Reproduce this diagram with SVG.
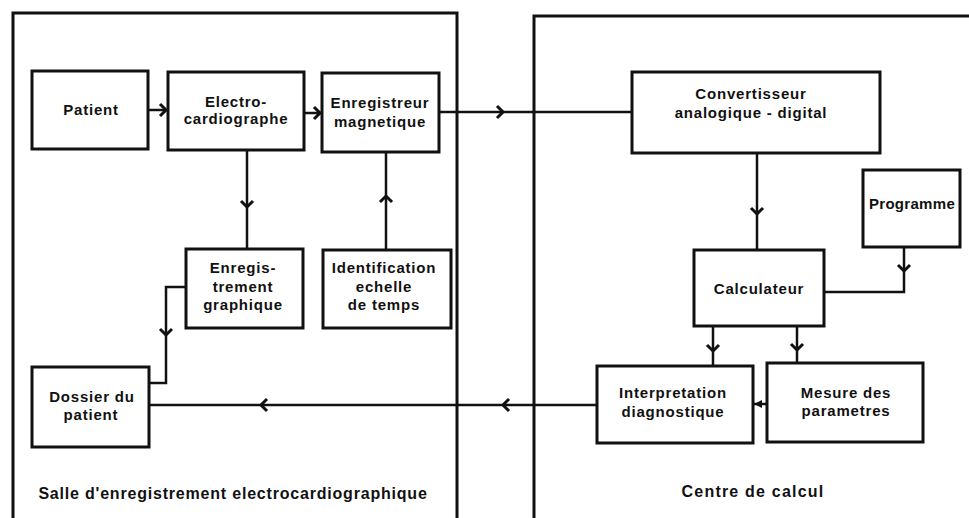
<svg xmlns="http://www.w3.org/2000/svg" width="969" height="518" viewBox="0 0 969 518">
<style>
.frame{fill:none;stroke:#111;stroke-width:3}
.box{fill:#fff;stroke:#111;stroke-width:3}
.ln{fill:none;stroke:#111;stroke-width:2.5}
.ch{fill:none;stroke:#111;stroke-width:3;stroke-linejoin:miter}
text{font-family:"Liberation Sans",Arial,sans-serif;font-weight:bold;font-size:15px;fill:#111;text-anchor:middle;letter-spacing:0.8px}
.lbl{font-size:16px;letter-spacing:1.2px}
.lbl2{font-size:16px;letter-spacing:0.8px}
.tight{letter-spacing:0.3px}
</style>
<defs>
<path id="chev" class="ch" d="M-6,-6 L0,0 L-6,6"/>
</defs>
<rect width="969" height="518" fill="#fff"/>
<g id="frames">
<path class="frame" d="M13,518 V13 H457 V518"/>
<path class="frame" d="M534,518 V16 H969"/>
</g>
<g id="connectors">
<path class="ln" d="M148,110 H168"/>
<use href="#chev" transform="translate(166,110)"/>
<path class="ln" d="M304,113 H322"/>
<use href="#chev" transform="translate(320,113)"/>
<path class="ln" d="M439,112 H632"/>
<use href="#chev" transform="translate(503,112)"/>
<path class="ln" d="M247,150 V249"/>
<use href="#chev" transform="translate(247,207) rotate(90)"/>
<path class="ln" d="M386,250 V152"/>
<use href="#chev" transform="translate(386,196) rotate(-90)"/>
<path class="ln" d="M186,287 H166 V383 H150"/>
<use href="#chev" transform="translate(166,335) rotate(90)"/>
<path class="ln" d="M757,153 V250"/>
<use href="#chev" transform="translate(757,214) rotate(90)"/>
<path class="ln" d="M904,247 V292 H825"/>
<use href="#chev" transform="translate(904,271) rotate(90)"/>
<path class="ln" d="M713,326 V366"/>
<use href="#chev" transform="translate(713,351) rotate(90)"/>
<path class="ln" d="M797,326 V363"/>
<use href="#chev" transform="translate(797,350) rotate(90)"/>
<path class="ln" d="M767,404 H753"/>
<path d="M754,404 L762,400 L762,408 Z" fill="#111"/>
<path class="ln" d="M597,405 H150"/>
<use href="#chev" transform="translate(503,405) rotate(180)"/>
<use href="#chev" transform="translate(261,405) rotate(180)"/>
</g>
<g id="patient"><rect class="box" x="32" y="71" width="116" height="78"/><text x="91" y="115">Patient</text></g>
<g id="electrocardiographe"><rect class="box" x="168" y="72" width="136" height="78"/><text x="236" y="107">Electro-</text><text x="236" y="124">cardiographe</text></g>
<g id="enregistreur"><rect class="box" x="322" y="73" width="117" height="79"/><text x="380" y="108">Enregistreur</text><text x="380" y="127">magnetique</text></g>
<g id="convertisseur"><rect class="box" x="632" y="72" width="248" height="81"/><text x="751" y="99">Convertisseur</text><text x="751" y="118">analogique - digital</text></g>
<g id="programme"><rect class="box" x="863" y="170" width="97" height="77"/><text class="tight" x="912" y="209">Programme</text></g>
<g id="calculateur"><rect class="box" x="694" y="250" width="130" height="76"/><text x="759" y="294">Calculateur</text></g>
<g id="interpretation"><rect class="box" x="597" y="366" width="156" height="77"/><text x="673" y="398">Interpretation</text><text x="673" y="417">diagnostique</text></g>
<g id="mesure"><rect class="box" x="767" y="363" width="156" height="79"/><text x="846" y="398">Mesure des</text><text x="846" y="416">parametres</text></g>
<g id="enregistrement"><rect class="box" x="186" y="249" width="117" height="79"/><text x="243" y="273">Enregis-</text><text x="243" y="292">trement</text><text x="243" y="310">graphique</text></g>
<g id="identification"><rect class="box" x="323" y="250" width="128" height="78"/><text x="384" y="273">Identification</text><text x="384" y="292">echelle</text><text x="384" y="310">de temps</text></g>
<g id="dossier"><rect class="box" x="32" y="367" width="117" height="80"/><text x="92" y="402">Dossier du</text><text x="91" y="420">patient</text></g>
<g id="labels">
<text class="lbl2" x="233" y="499">Salle d'enregistrement electrocardiographique</text>
<text class="lbl" x="753" y="497">Centre de calcul</text>
</g>
</svg>
